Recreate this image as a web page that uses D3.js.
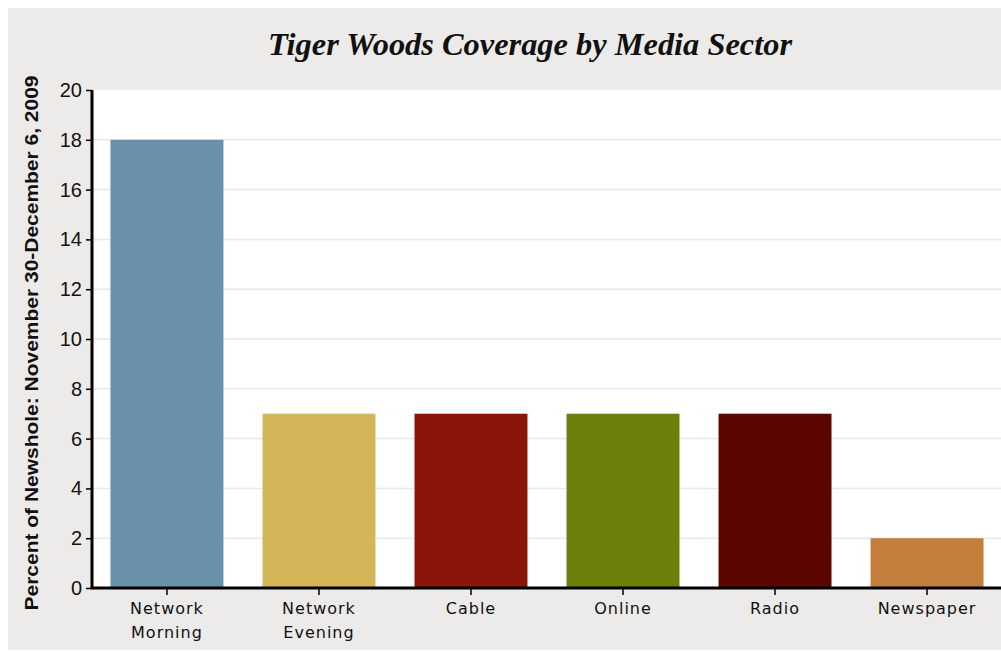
<!doctype html>
<html>
<head>
<script src="https://d3js.org/d3.v7.min.js"></script>
<style>
  body { margin: 0; background: #fff; }
  .domain { stroke: none; }
</style>
</head>
<body>
<svg id="chart" width="1001" height="652"></svg>
<script>
var categories = ["Network Morning", "Network Evening", "Cable", "Online", "Radio", "Newspaper"];
var values = [18, 7, 7, 7, 7, 2];
var colors = ["#6991ab", "#d4b558", "#891608", "#6b7f0b", "#5c0602", "#c47e3c"];
var yTicks = [0, 2, 4, 6, 8, 10, 12, 14, 16, 18, 20];

var svg = d3.select("#chart");

// gray panel
svg.append("rect").attr("x", 8).attr("y", 8).attr("width", 993).attr("height", 642)
  .style("fill", "#ecebe9");

var plotL = 93, plotR = 1001, plotT = 90, plotB = 588;

svg.append("rect").attr("x", plotL).attr("y", plotT).attr("width", plotR - plotL).attr("height", plotB - plotT)
  .style("fill", "#fff");

var x = d3.scaleBand().domain(categories).range([plotL, plotR]).paddingInner(0.257).paddingOuter(0.115);
var y = d3.scaleLinear().domain([0, 20]).range([plotB, plotT]);

// grid
svg.append("g").selectAll("line").data(yTicks.slice(1, -1)).enter().append("line")
  .attr("x1", plotL).attr("x2", plotR)
  .attr("y1", d => y(d)).attr("y2", d => y(d))
  .style("stroke", "#e8e8e8").style("stroke-width", 1.5);

// bars
svg.append("g").selectAll("rect").data(values).enter().append("rect")
  .attr("x", (d, i) => x(categories[i]))
  .attr("y", d => y(d))
  .attr("width", x.bandwidth())
  .attr("height", d => y(0) - y(d))
  .style("fill", (d, i) => colors[i]);

// y axis
var yAxis = d3.axisLeft(y).tickValues(yTicks).tickSize(6).tickPadding(4);
var yg = svg.append("g").attr("transform", "translate(" + (plotL - 1) + ",0)").call(yAxis);
yg.selectAll("text").style("font-family", "'Liberation Sans', sans-serif").style("font-size", "20px")
  .style("fill", "#111");
yg.selectAll(".tick line").style("stroke", "#000").style("stroke-width", 1.5);
svg.append("line").attr("x1", plotL - 1).attr("x2", plotL - 1).attr("y1", plotT).attr("y2", plotB + 1)
  .style("stroke", "#000").style("stroke-width", 3);

// x axis
var xAxis = d3.axisBottom(x).tickSize(6).tickPadding(8);
var xg = svg.append("g").attr("transform", "translate(0," + (plotB + 1) + ")").call(xAxis);
xg.selectAll(".tick line").style("stroke", "#000").style("stroke-width", 1.5);
xg.selectAll("text").style("font-family", "'DejaVu Sans', sans-serif").style("font-size", "16px")
  .style("letter-spacing", "1px").style("fill", "#111")
  .each(function(d) {
    var words = d.split(" ");
    var t = d3.select(this).text(null);
    words.forEach(function(w, i) {
      t.append("tspan").attr("x", 0).attr("dy", i === 0 ? "0.71em" : "1.45em").text(w);
    });
  });
svg.append("line").attr("x1", plotL - 2.5).attr("x2", plotR).attr("y1", plotB).attr("y2", plotB)
  .style("stroke", "#000").style("stroke-width", 3);

// title
svg.append("text").attr("x", 530).attr("y", 55).attr("text-anchor", "middle")
  .attr("textLength", 524).attr("lengthAdjust", "spacingAndGlyphs")
  .style("font-family", "'Liberation Serif', serif").style("font-style", "italic").style("font-weight", "bold")
  .style("font-size", "31px").style("fill", "#111")
  .text("Tiger Woods Coverage by Media Sector");

// y title
svg.append("text").attr("transform", "translate(38,343) rotate(-90)").attr("text-anchor", "middle")
  .attr("textLength", 535).attr("lengthAdjust", "spacingAndGlyphs")
  .style("font-family", "'Liberation Sans', sans-serif").style("font-weight", "bold")
  .style("font-size", "18px").style("fill", "#111")
  .text("Percent of Newshole: November 30-December 6, 2009");
</script>
</body>
</html>
